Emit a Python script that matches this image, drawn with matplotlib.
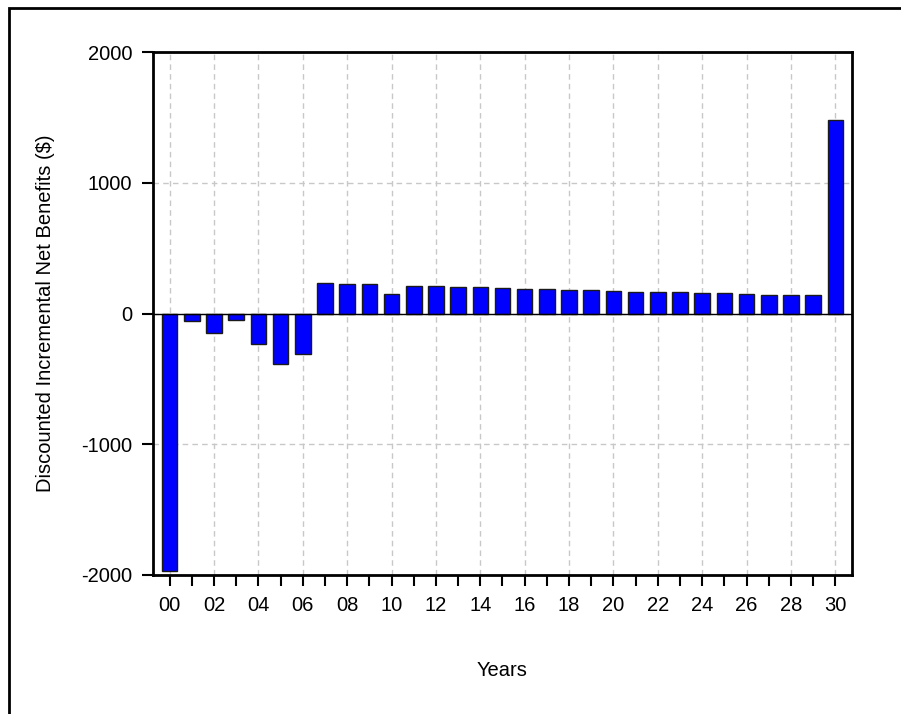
import matplotlib
matplotlib.use("Agg")
import matplotlib.pyplot as plt
from matplotlib.patches import Rectangle
from matplotlib.ticker import MultipleLocator

plt.rcParams['font.family'] = ['Liberation Sans', 'DejaVu Sans']
plt.rcParams['axes.unicode_minus'] = False

# discounted incremental net benefits per year
years = list(range(0, 31))
benefits = [-1970, -54, -148, -49, -232, -390, -309, 234, 226, 222,
            150, 214, 209, 206, 200, 196, 191, 186, 181, 178,
            173, 168, 166, 161, 156, 153, 148, 145, 143, 140, 1478]
tick_years = list(range(0, 31, 2))
tick_labels = [f"{y:02d}" for y in tick_years]

fig = plt.figure(figsize=(9.01, 7.14), dpi=100)
ax = fig.add_axes([153 / 901, 1 - 575 / 714, (852 - 153) / 901, (575 - 52) / 714])

ax.bar(years, benefits, width=0.7, color='#0000FF', edgecolor='#1a1a1a',
       linewidth=1.0, zorder=3)
ax.axhline(0, color='black', linewidth=1.0, zorder=4)

ax.set_xlim(-0.75, 30.75)
ax.set_ylim(-2000, 2000)
ax.set_yticks([-2000, -1000, 0, 1000, 2000])
ax.set_xticks(tick_years)
ax.set_xticklabels(tick_labels)
ax.xaxis.set_minor_locator(MultipleLocator(1))

ax.grid(True, which='major', color='#c8c8c8', linestyle=(0, (4, 3)), linewidth=1.0, zorder=0)
ax.tick_params(axis='both', which='major', direction='out', length=8, width=1.5,
               labelsize=14.5, color='black', pad=7)
ax.tick_params(axis='x', which='minor', direction='out', length=8, width=1.5)

for sp in ax.spines.values():
    sp.set_linewidth(2.0)
    sp.set_color('black')

ax.set_ylabel('Discounted Incremental Net Benefits ($)', fontsize=14.5)
ax.yaxis.set_label_coords(-0.140, 0.5)
ax.set_xlabel('Years', fontsize=14.5)
ax.xaxis.set_label_coords(0.5, -0.165)

# outer frame (only the top and left edges show in the picture)
fig.patches.append(Rectangle((8.5 / 901, -0.1), 1.2, (1 - 8.5 / 714) + 0.1,
                             transform=fig.transFigure, fill=False,
                             edgecolor='black', linewidth=2.0))

fig.savefig('out.png', dpi=100)
